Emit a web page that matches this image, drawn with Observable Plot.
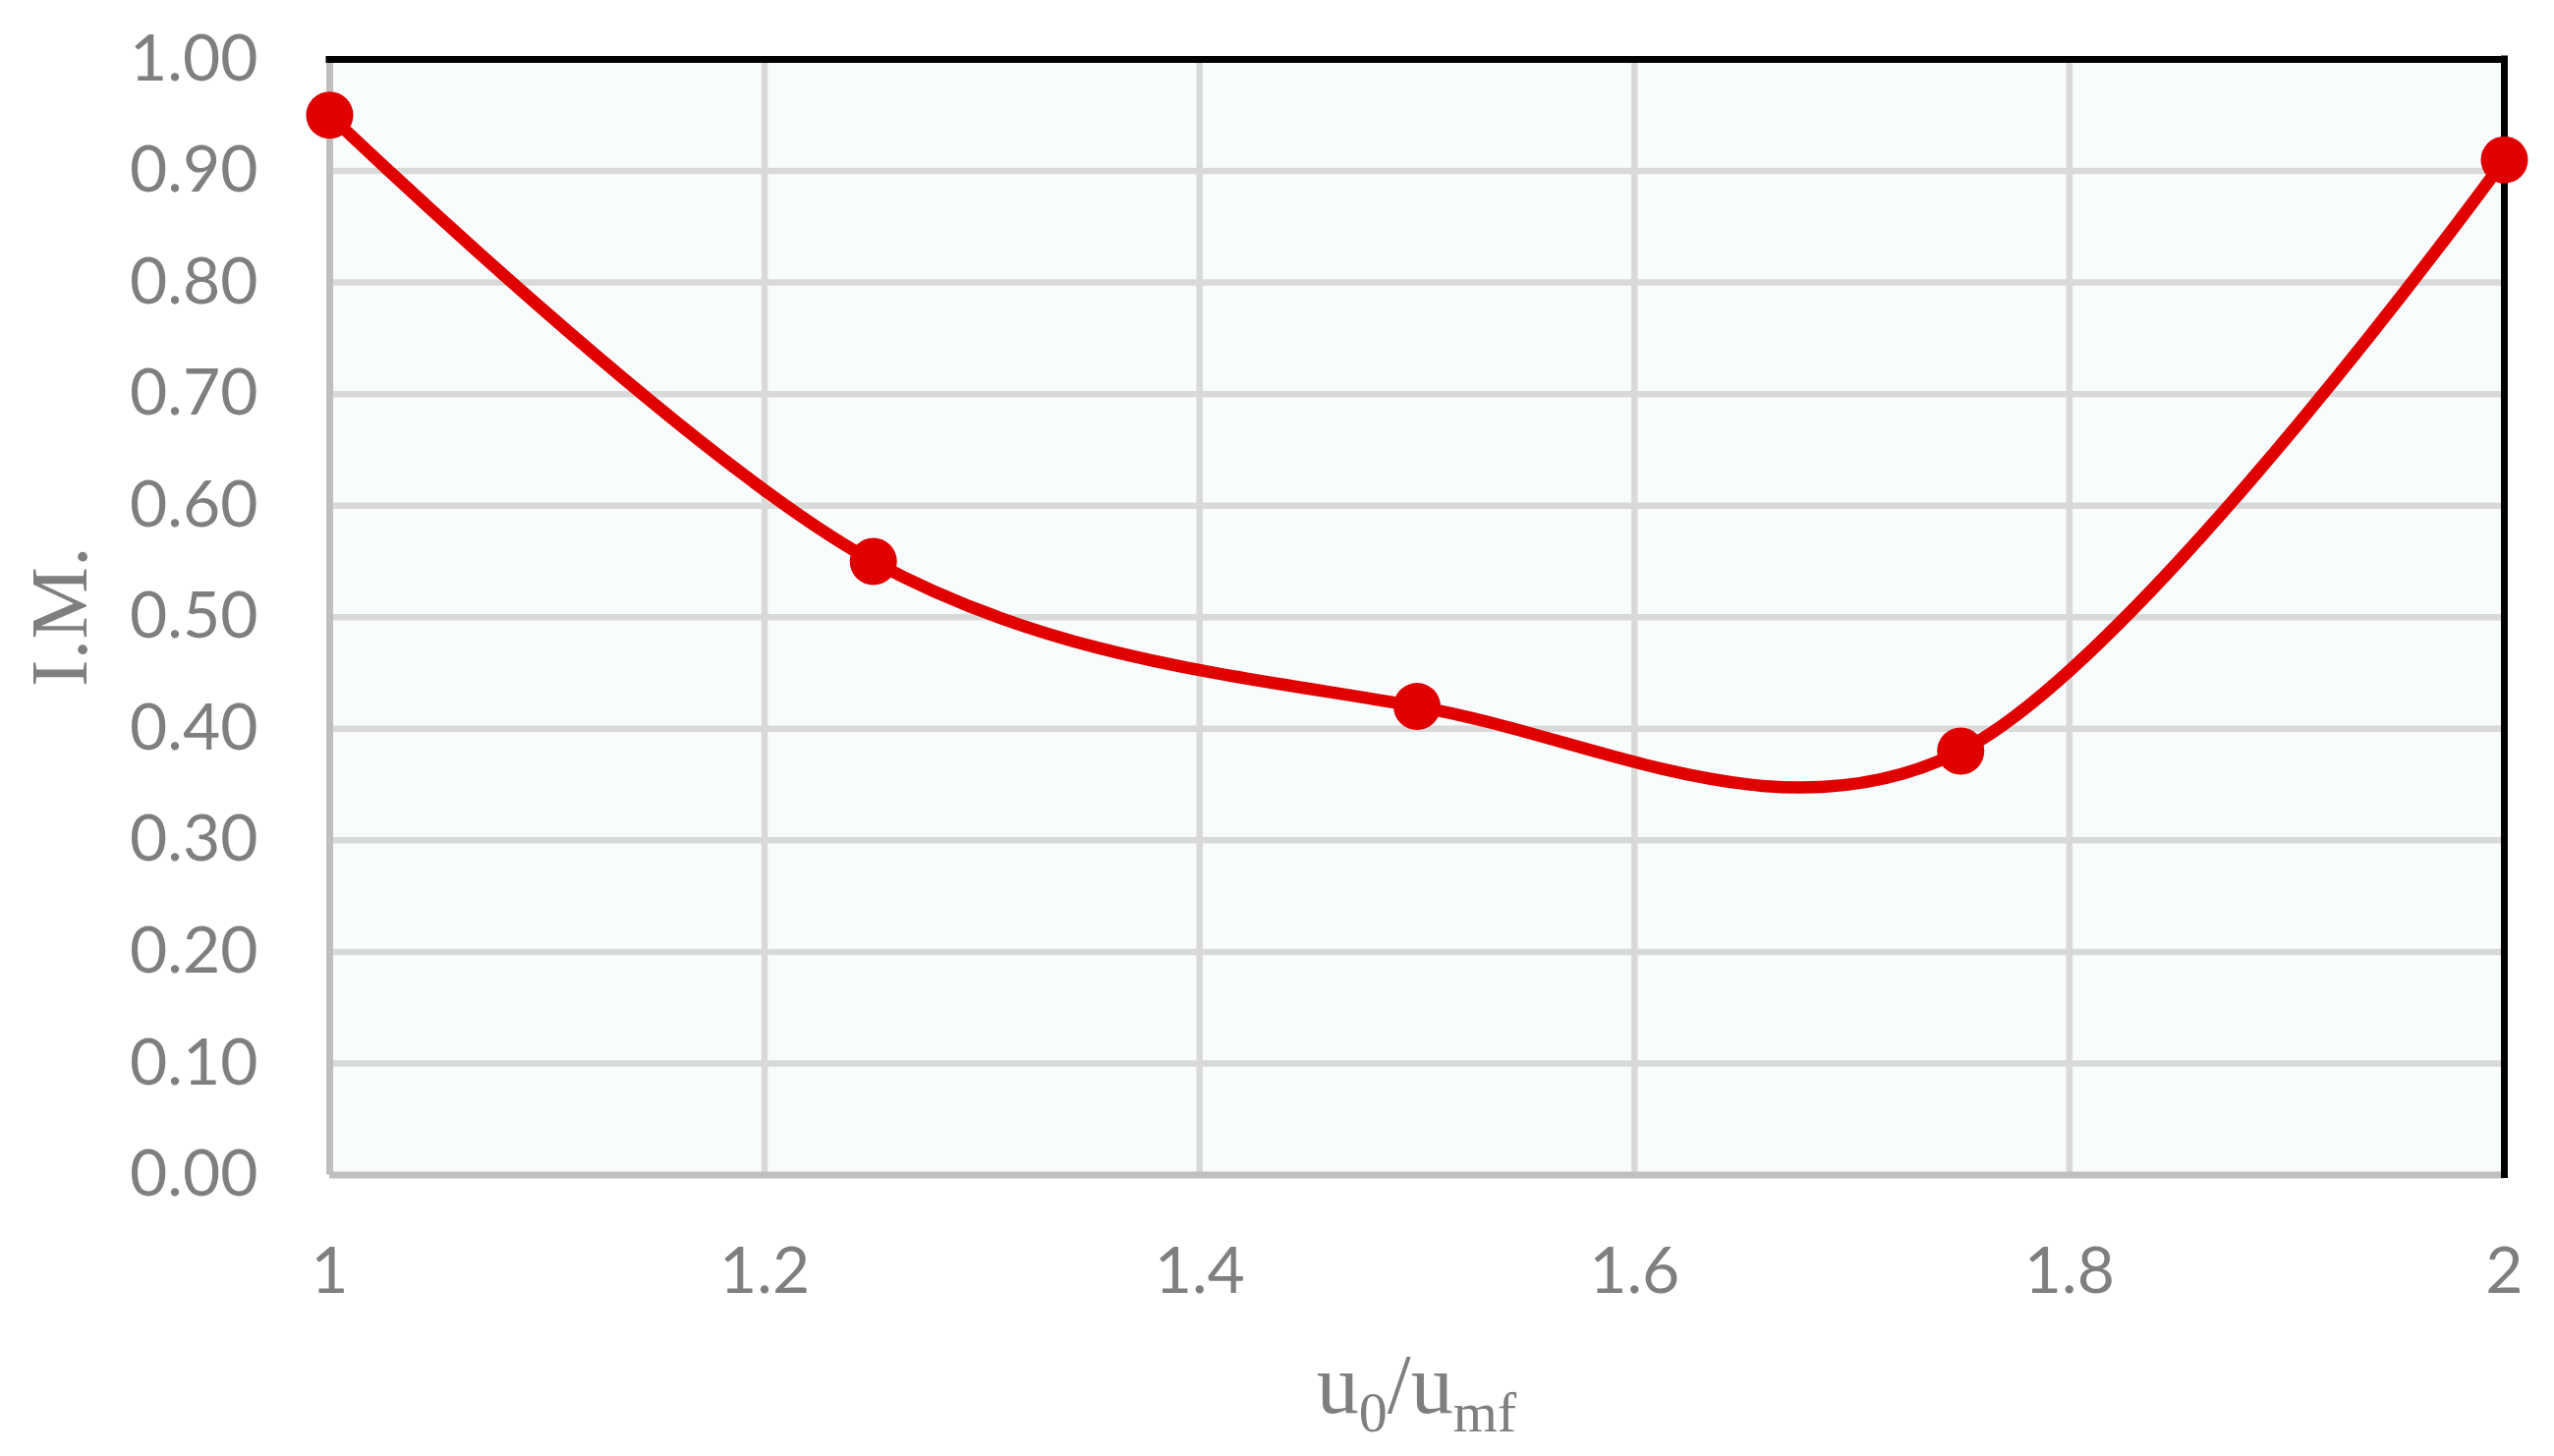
<!DOCTYPE html>
<html>
<head>
<meta charset="utf-8">
<script src="https://cdn.jsdelivr.net/npm/d3@7"></script>
<script src="https://cdn.jsdelivr.net/npm/@observablehq/plot@0.6"></script>
<style>
  html, body { margin: 0; padding: 0; background: #ffffff; }
</style>
</head>
<body>
<div id="chart"></div>
<script>
// Data
const velocityRatio = [1, 1.25, 1.5, 1.75, 2];
const mixingIndex = [0.95, 0.55, 0.42, 0.38, 0.91];
const xTicks = [1, 1.2, 1.4, 1.6, 1.8, 2];
const yTicks = [0, 0.1, 0.2, 0.3, 0.4, 0.5, 0.6, 0.7, 0.8, 0.9, 1];
const xGrid = [1.2, 1.4, 1.6, 1.8];
const yGrid = [0.1, 0.2, 0.3, 0.4, 0.5, 0.6, 0.7, 0.8, 0.9];
const yTitle = "I.M.";

const data = velocityRatio.map((x, i) => ({x, y: mixingIndex[i]}));

const W = 2599, H = 1482;
const mL = 335, mR = 51, mT = 60, mB = 286.5;
const gray = "#7f7f7f";

const chart = Plot.plot({
  width: W,
  height: H,
  marginLeft: mL,
  marginRight: mR,
  marginTop: mT,
  marginBottom: mB,
  style: {background: "#ffffff", fontFamily: "Lato", fontSize: "66px", overflow: "visible"},
  x: {type: "linear", domain: [1, 2], label: null},
  y: {type: "linear", domain: [0, 1], label: null},
  marks: [
    Plot.frame({fill: "#f8fcfd", stroke: null}),
    Plot.gridX(xGrid, {stroke: "#d9d9d9", strokeOpacity: 1, strokeWidth: 6.5}),
    Plot.gridY(yGrid, {stroke: "#d9d9d9", strokeOpacity: 1, strokeWidth: 6.5}),
    Plot.ruleX([1], {stroke: "#bfbfbf", strokeWidth: 7}),
    Plot.ruleY([0], {stroke: "#bfbfbf", strokeWidth: 7}),
    Plot.ruleY([1], {stroke: "#000000", strokeWidth: 7, strokeLinecap: "square"}),
    Plot.ruleX([2], {stroke: "#000000", strokeWidth: 7, strokeLinecap: "square"}),
    Plot.axisY(yTicks, {
      tickSize: 0, tickPadding: 73, fontSize: 66, color: gray,
      fontFamily: "Lato", tickFormat: d3.format(".2f"), label: null
    }),
    Plot.axisX(xTicks, {
      tickSize: 0, tickPadding: 73, fontSize: 66, color: gray,
      fontFamily: "Lato", tickFormat: d => String(+d.toFixed(1)), label: null
    }),
    Plot.line(data, {x: "x", y: "y", curve: "cardinal", stroke: "#e00000", strokeWidth: 12.5}),
    Plot.dot(data, {x: "x", y: "y", r: 24, fill: "#e00000", stroke: null})
  ]
});

document.getElementById("chart").appendChild(chart);

// Axis titles (serif, with subscripts)
const svg = d3.select(chart);
const plotCx = mL + (W - mL - mR) / 2;
const plotCy = mT + (H - mT - mB) / 2;

svg.append("text")
  .attr("transform", `translate(88,${plotCy}) rotate(-90)`)
  .attr("text-anchor", "middle")
  .attr("font-family", "Liberation Serif, Times New Roman, serif")
  .attr("font-size", 83)
  .attr("fill", gray)
  .text(yTitle);

const xt = svg.append("text")
  .attr("x", plotCx)
  .attr("y", 1438)
  .attr("text-anchor", "middle")
  .attr("font-family", "Liberation Serif, Times New Roman, serif")
  .attr("font-size", 86)
  .attr("fill", gray);
xt.append("tspan").text("u");
xt.append("tspan").attr("dy", 19).attr("font-size", 58).text("0");
xt.append("tspan").attr("dy", -19).text("/u");
xt.append("tspan").attr("dy", 19).attr("font-size", 58).text("mf");
</script>
</body>
</html>
